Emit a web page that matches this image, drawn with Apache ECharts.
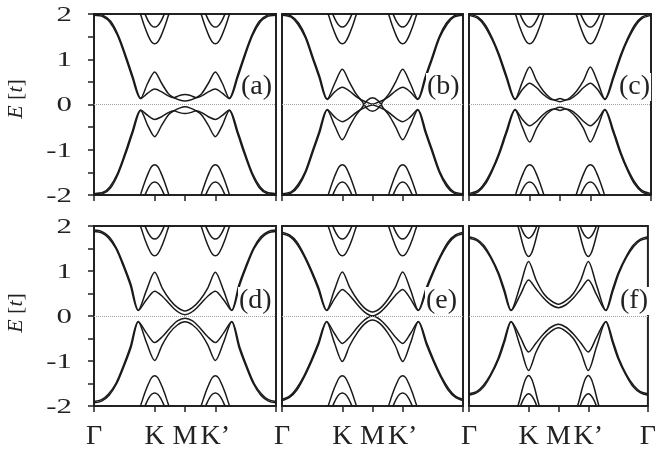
<!DOCTYPE html>
<html>
<head>
<meta charset="utf-8">
<script src="https://cdn.jsdelivr.net/npm/echarts@6/dist/echarts.min.js"></script>
<style>
  html, body { margin: 0; padding: 0; background: #fff; }
  #chart { width: 659px; height: 458px; }
</style>
</head>
<body>
<div id="chart"></div>
<script>
// Path coordinate along the Brillouin-zone cut: Γ=0, K=2, M=3, K'=4, Γ=6
const kPathTicks = [0, 2, 3, 4, 6];
const kPathLabels = ['Γ', 'K', 'M', 'K’', 'Γ'];
const energyTicks = [-2, -1, 0, 1, 2];
const panelTags = ['(a)', '(b)', '(c)', '(d)', '(e)', '(f)'];

// ---- panel (a) ----
const aUp1 = [[0,2.0],[0.3,1.97],[0.55,1.84],[0.8,1.53],[1.05,1.08],[1.28,0.62],[1.54,0.14],[1.77,0.47],[2.0,0.72],[2.23,0.47],[2.45,0.24],[2.63,0.15],[2.82,0.1],[3.0,0.08],[3.18,0.1],[3.37,0.15],[3.55,0.24],[3.77,0.47],[4.0,0.72],[4.23,0.47],[4.46,0.14],[4.72,0.62],[4.95,1.08],[5.2,1.53],[5.45,1.84],[5.7,1.97],[6,2.0]];
const aUp2 = [[0,1.97],[0.3,1.94],[0.52,1.82],[0.77,1.53],[1.02,1.08],[1.25,0.62],[1.54,0.13],[1.77,0.25],[2.0,0.34],[2.23,0.28],[2.45,0.19],[2.63,0.15],[2.82,0.2],[3.0,0.22],[3.18,0.2],[3.37,0.15],[3.55,0.19],[3.77,0.28],[4.0,0.34],[4.23,0.25],[4.46,0.13],[4.75,0.62],[4.98,1.08],[5.23,1.53],[5.48,1.82],[5.7,1.94],[6,1.97]];
const aDn1 = [[0,-2.0],[0.3,-1.97],[0.55,-1.84],[0.8,-1.53],[1.05,-1.08],[1.28,-0.62],[1.54,-0.13],[1.77,-0.46],[2.0,-0.71],[2.23,-0.46],[2.45,-0.23],[2.63,-0.14],[2.82,-0.08],[3.0,-0.05],[3.18,-0.08],[3.37,-0.14],[3.55,-0.23],[3.77,-0.46],[4.0,-0.71],[4.23,-0.46],[4.46,-0.13],[4.72,-0.62],[4.95,-1.08],[5.2,-1.53],[5.45,-1.84],[5.7,-1.97],[6,-2.0]];
const aDn2 = [[0,-1.97],[0.3,-1.94],[0.52,-1.82],[0.77,-1.53],[1.02,-1.08],[1.25,-0.62],[1.54,-0.12],[1.77,-0.24],[2.0,-0.33],[2.23,-0.27],[2.45,-0.18],[2.63,-0.14],[2.82,-0.18],[3.0,-0.2],[3.18,-0.18],[3.37,-0.14],[3.55,-0.18],[3.77,-0.27],[4.0,-0.33],[4.23,-0.24],[4.46,-0.12],[4.75,-0.62],[4.98,-1.08],[5.23,-1.53],[5.48,-1.82],[5.7,-1.94],[6,-1.97]];

// ---- panel (b) ----
const bUp1 = [[0,2.0],[0.3,1.96],[0.55,1.8],[0.8,1.48],[1.05,1.0],[1.25,0.62],[1.5,0.12],[1.75,0.47],[2.0,0.78],[2.23,0.5],[2.45,0.24],[2.64,0.08],[2.82,-0.09],[3.0,-0.15],[3.18,-0.09],[3.36,0.08],[3.55,0.24],[3.77,0.5],[4.0,0.78],[4.25,0.47],[4.5,0.12],[4.75,0.62],[4.95,1.0],[5.2,1.48],[5.45,1.8],[5.7,1.96],[6,2.0]];
const bUp2 = [[0,1.97],[0.3,1.93],[0.52,1.78],[0.77,1.48],[1.02,1.0],[1.22,0.62],[1.5,0.11],[1.75,0.28],[2.0,0.38],[2.23,0.3],[2.45,0.18],[2.64,0.1],[2.82,0.05],[3.0,0.01],[3.18,0.05],[3.36,0.1],[3.55,0.18],[3.77,0.3],[4.0,0.38],[4.25,0.28],[4.5,0.11],[4.78,0.62],[4.98,1.0],[5.23,1.48],[5.48,1.78],[5.7,1.93],[6,1.97]];
const bDn1 = [[0,-2.0],[0.3,-1.96],[0.55,-1.8],[0.8,-1.48],[1.05,-1.0],[1.25,-0.62],[1.5,-0.12],[1.75,-0.47],[2.0,-0.78],[2.23,-0.5],[2.45,-0.24],[2.64,-0.08],[2.82,0.09],[3.0,0.15],[3.18,0.09],[3.36,-0.08],[3.55,-0.24],[3.77,-0.5],[4.0,-0.78],[4.25,-0.47],[4.5,-0.12],[4.75,-0.62],[4.95,-1.0],[5.2,-1.48],[5.45,-1.8],[5.7,-1.96],[6,-2.0]];
const bDn2 = [[0,-1.97],[0.3,-1.93],[0.52,-1.78],[0.77,-1.48],[1.02,-1.0],[1.22,-0.62],[1.5,-0.11],[1.75,-0.28],[2.0,-0.38],[2.23,-0.3],[2.45,-0.18],[2.64,-0.1],[2.82,-0.05],[3.0,-0.01],[3.18,-0.05],[3.36,-0.1],[3.55,-0.18],[3.77,-0.3],[4.0,-0.38],[4.25,-0.28],[4.5,-0.11],[4.78,-0.62],[4.98,-1.0],[5.23,-1.48],[5.48,-1.78],[5.7,-1.93],[6,-1.97]];

// ---- panel (c) ----
const cUp1 = [[0,2.0],[0.3,1.93],[0.55,1.75],[0.8,1.42],[1.0,1.1],[1.25,0.61],[1.52,0.12],[1.76,0.5],[2.0,0.83],[2.23,0.52],[2.45,0.3],[2.67,0.15],[2.84,0.09],[3.0,0.06],[3.16,0.09],[3.33,0.15],[3.55,0.3],[3.77,0.52],[4.0,0.83],[4.24,0.5],[4.48,0.12],[4.75,0.61],[5.0,1.1],[5.2,1.42],[5.45,1.75],[5.7,1.93],[6,2.0]];
const cUp2 = [[0,1.97],[0.3,1.9],[0.52,1.73],[0.77,1.42],[0.97,1.1],[1.22,0.61],[1.52,0.11],[1.76,0.33],[2.0,0.47],[2.23,0.37],[2.45,0.22],[2.67,0.12],[2.84,0.1],[3.0,0.13],[3.16,0.1],[3.33,0.12],[3.55,0.22],[3.77,0.37],[4.0,0.47],[4.24,0.33],[4.48,0.11],[4.78,0.61],[5.03,1.1],[5.23,1.42],[5.48,1.73],[5.7,1.9],[6,1.97]];
const cDn1 = [[0,-2.0],[0.3,-1.93],[0.55,-1.75],[0.8,-1.42],[1.0,-1.1],[1.25,-0.61],[1.52,-0.12],[1.76,-0.5],[2.0,-0.83],[2.23,-0.52],[2.45,-0.3],[2.67,-0.15],[2.84,-0.09],[3.0,-0.06],[3.16,-0.09],[3.33,-0.15],[3.55,-0.3],[3.77,-0.52],[4.0,-0.83],[4.24,-0.5],[4.48,-0.12],[4.75,-0.61],[5.0,-1.1],[5.2,-1.42],[5.45,-1.75],[5.7,-1.93],[6,-2.0]];
const cDn2 = [[0,-1.97],[0.3,-1.9],[0.52,-1.73],[0.77,-1.42],[0.97,-1.1],[1.22,-0.61],[1.52,-0.11],[1.76,-0.33],[2.0,-0.47],[2.23,-0.37],[2.45,-0.22],[2.67,-0.12],[2.84,-0.1],[3.0,-0.13],[3.16,-0.1],[3.33,-0.12],[3.55,-0.22],[3.77,-0.37],[4.0,-0.47],[4.24,-0.33],[4.48,-0.11],[4.78,-0.61],[5.03,-1.1],[5.23,-1.42],[5.48,-1.73],[5.7,-1.9],[6,-1.97]];

// ---- panel (d) ----
const dUp1 = [[0,1.91],[0.25,1.88],[0.5,1.76],[0.75,1.5],[1.0,1.1],[1.22,0.7],[1.46,0.13],[1.73,0.57],[2.0,0.97],[2.25,0.62],[2.5,0.36],[2.75,0.19],[3.0,0.11],[3.25,0.19],[3.5,0.36],[3.75,0.62],[4.0,0.97],[4.27,0.57],[4.54,0.13],[4.78,0.7],[5.0,1.1],[5.25,1.5],[5.5,1.76],[5.75,1.88],[6,1.91]];
const dUp2 = [[0,1.88],[0.25,1.85],[0.47,1.74],[0.72,1.5],[0.97,1.1],[1.19,0.7],[1.46,0.12],[1.73,0.36],[2.0,0.55],[2.25,0.44],[2.5,0.26],[2.75,0.1],[3.0,0.03],[3.25,0.1],[3.5,0.26],[3.75,0.44],[4.0,0.55],[4.27,0.36],[4.54,0.12],[4.81,0.7],[5.03,1.1],[5.28,1.5],[5.53,1.74],[5.75,1.85],[6,1.88]];
const dDn1 = [[0,-1.93],[0.25,-1.89],[0.5,-1.76],[0.75,-1.5],[1.0,-1.1],[1.22,-0.7],[1.46,-0.13],[1.73,-0.59],[2.0,-0.99],[2.25,-0.64],[2.5,-0.37],[2.75,-0.2],[3.0,-0.13],[3.25,-0.2],[3.5,-0.37],[3.75,-0.64],[4.0,-0.99],[4.27,-0.59],[4.54,-0.13],[4.78,-0.7],[5.0,-1.1],[5.25,-1.5],[5.5,-1.76],[5.75,-1.89],[6,-1.93]];
const dDn2 = [[0,-1.9],[0.25,-1.86],[0.47,-1.74],[0.72,-1.5],[0.97,-1.1],[1.19,-0.7],[1.46,-0.12],[1.73,-0.38],[2.0,-0.59],[2.25,-0.46],[2.5,-0.27],[2.75,-0.11],[3.0,-0.05],[3.25,-0.11],[3.5,-0.27],[3.75,-0.46],[4.0,-0.59],[4.27,-0.38],[4.54,-0.12],[4.81,-0.7],[5.03,-1.1],[5.28,-1.5],[5.53,-1.74],[5.75,-1.86],[6,-1.9]];

// ---- panel (e) ----
const eUp1 = [[0,1.86],[0.25,1.8],[0.5,1.64],[0.75,1.34],[1.0,0.98],[1.22,0.62],[1.48,0.13],[1.74,0.58],[2.0,0.98],[2.25,0.63],[2.5,0.36],[2.75,0.17],[3.0,0.09],[3.25,0.17],[3.5,0.36],[3.75,0.63],[4.0,0.98],[4.26,0.58],[4.52,0.13],[4.78,0.62],[5.0,0.98],[5.25,1.34],[5.5,1.64],[5.75,1.8],[6,1.86]];
const eUp2 = [[0,1.83],[0.25,1.77],[0.47,1.62],[0.72,1.34],[0.97,0.98],[1.19,0.62],[1.48,0.12],[1.74,0.38],[2.0,0.59],[2.25,0.45],[2.5,0.25],[2.75,0.08],[3.0,0.0],[3.25,0.08],[3.5,0.25],[3.75,0.45],[4.0,0.59],[4.26,0.38],[4.52,0.12],[4.81,0.62],[5.03,0.98],[5.28,1.34],[5.53,1.62],[5.75,1.77],[6,1.83]];
const eDn1 = [[0,-1.88],[0.25,-1.81],[0.5,-1.64],[0.75,-1.34],[1.0,-0.98],[1.22,-0.62],[1.48,-0.13],[1.74,-0.6],[2.0,-1.01],[2.25,-0.65],[2.5,-0.37],[2.75,-0.17],[3.0,-0.09],[3.25,-0.17],[3.5,-0.37],[3.75,-0.65],[4.0,-1.01],[4.26,-0.6],[4.52,-0.13],[4.78,-0.62],[5.0,-0.98],[5.25,-1.34],[5.5,-1.64],[5.75,-1.81],[6,-1.88]];
const eDn2 = [[0,-1.85],[0.25,-1.78],[0.47,-1.62],[0.72,-1.34],[0.97,-0.98],[1.19,-0.62],[1.48,-0.12],[1.74,-0.39],[2.0,-0.61],[2.25,-0.46],[2.5,-0.25],[2.75,-0.08],[3.0,0.0],[3.25,-0.08],[3.5,-0.25],[3.75,-0.46],[4.0,-0.61],[4.26,-0.39],[4.52,-0.12],[4.81,-0.62],[5.03,-0.98],[5.28,-1.34],[5.53,-1.62],[5.75,-1.78],[6,-1.85]];

// ---- panel (f) ----
const fUp1 = [[0,1.76],[0.25,1.71],[0.5,1.57],[0.75,1.3],[1.0,0.95],[1.2,0.56],[1.41,0.13],[1.72,0.68],[2.0,1.21],[2.25,0.8],[2.5,0.5],[2.75,0.34],[3.0,0.26],[3.25,0.34],[3.5,0.5],[3.75,0.8],[4.0,1.21],[4.28,0.68],[4.59,0.13],[4.8,0.56],[5.0,0.95],[5.25,1.3],[5.5,1.57],[5.75,1.71],[6,1.76]];
const fUp2 = [[0,1.73],[0.25,1.68],[0.47,1.55],[0.72,1.3],[0.97,0.95],[1.17,0.56],[1.41,0.12],[1.72,0.47],[2.0,0.8],[2.25,0.6],[2.5,0.4],[2.75,0.25],[3.0,0.185],[3.25,0.25],[3.5,0.4],[3.75,0.6],[4.0,0.8],[4.28,0.47],[4.59,0.12],[4.83,0.56],[5.03,0.95],[5.28,1.3],[5.53,1.55],[5.75,1.68],[6,1.73]];
const fDn1 = [[0,-1.76],[0.25,-1.71],[0.5,-1.57],[0.75,-1.3],[1.0,-0.95],[1.2,-0.56],[1.41,-0.13],[1.72,-0.68],[2.0,-1.21],[2.25,-0.8],[2.5,-0.5],[2.75,-0.34],[3.0,-0.26],[3.25,-0.34],[3.5,-0.5],[3.75,-0.8],[4.0,-1.21],[4.28,-0.68],[4.59,-0.13],[4.8,-0.56],[5.0,-0.95],[5.25,-1.3],[5.5,-1.57],[5.75,-1.71],[6,-1.76]];
const fDn2 = [[0,-1.73],[0.25,-1.68],[0.47,-1.55],[0.72,-1.3],[0.97,-0.95],[1.17,-0.56],[1.41,-0.12],[1.72,-0.47],[2.0,-0.8],[2.25,-0.6],[2.5,-0.4],[2.75,-0.25],[3.0,-0.185],[3.25,-0.25],[3.5,-0.4],[3.75,-0.6],[4.0,-0.8],[4.28,-0.47],[4.59,-0.12],[4.83,-0.56],[5.03,-0.95],[5.28,-1.3],[5.53,-1.55],[5.75,-1.68],[6,-1.73]];

// ---- high-energy pockets around K and K' (panels a-e) ----
const highV = [[1.45,2.15],[1.55,1.96],[1.68,1.7],[1.8,1.5],[1.9,1.38],[2.0,1.34],[2.1,1.38],[2.2,1.5],[2.32,1.7],[2.45,1.96],[2.55,2.15],[3,null],[3.45,2.15],[3.55,1.96],[3.68,1.7],[3.8,1.5],[3.9,1.38],[4.0,1.34],[4.1,1.38],[4.2,1.5],[4.32,1.7],[4.45,1.96],[4.55,2.15]];
const highU = [[1.6,2.12],[1.7,1.97],[1.8,1.83],[1.9,1.74],[2.0,1.71],[2.1,1.74],[2.2,1.83],[2.3,1.97],[2.4,2.12],[3,null],[3.6,2.12],[3.7,1.97],[3.8,1.83],[3.9,1.74],[4.0,1.71],[4.1,1.74],[4.2,1.83],[4.3,1.97],[4.4,2.12]];
const lowV = [[1.45,-2.15],[1.55,-1.96],[1.68,-1.7],[1.8,-1.5],[1.9,-1.37],[2.0,-1.33],[2.1,-1.37],[2.2,-1.5],[2.32,-1.7],[2.45,-1.96],[2.55,-2.15],[3,null],[3.45,-2.15],[3.55,-1.96],[3.68,-1.7],[3.8,-1.5],[3.9,-1.37],[4.0,-1.33],[4.1,-1.37],[4.2,-1.5],[4.32,-1.7],[4.45,-1.96],[4.55,-2.15]];
const lowU = [[1.6,-2.12],[1.7,-1.97],[1.8,-1.83],[1.9,-1.74],[2.0,-1.71],[2.1,-1.74],[2.2,-1.83],[2.3,-1.97],[2.4,-2.12],[3,null],[3.6,-2.12],[3.7,-1.97],[3.8,-1.83],[3.9,-1.74],[4.0,-1.71],[4.1,-1.74],[4.2,-1.83],[4.3,-1.97],[4.4,-2.12]];

// ---- high-energy pockets, panel (f) ----
const fHighV = [[1.6,2.1],[1.7,1.86],[1.8,1.6],[1.9,1.4],[2.0,1.32],[2.1,1.4],[2.2,1.6],[2.3,1.86],[2.4,2.1],[3,null],[3.6,2.1],[3.7,1.86],[3.8,1.6],[3.9,1.4],[4.0,1.32],[4.1,1.4],[4.2,1.6],[4.3,1.86],[4.4,2.1]];
const fHighU = [[1.7,2.05],[1.8,1.88],[1.9,1.77],[2.0,1.73],[2.1,1.77],[2.2,1.88],[2.3,2.05],[3,null],[3.7,2.05],[3.8,1.88],[3.9,1.77],[4.0,1.73],[4.1,1.77],[4.2,1.88],[4.3,2.05]];
const fLowV = [[1.6,-2.1],[1.7,-1.86],[1.8,-1.6],[1.9,-1.4],[2.0,-1.32],[2.1,-1.4],[2.2,-1.6],[2.3,-1.86],[2.4,-2.1],[3,null],[3.6,-2.1],[3.7,-1.86],[3.8,-1.6],[3.9,-1.4],[4.0,-1.32],[4.1,-1.4],[4.2,-1.6],[4.3,-1.86],[4.4,-2.1]];
const fLowU = [[1.7,-2.05],[1.8,-1.88],[1.9,-1.77],[2.0,-1.73],[2.1,-1.77],[2.2,-1.88],[2.3,-2.05],[3,null],[3.7,-2.05],[3.8,-1.88],[3.9,-1.77],[4.0,-1.73],[4.1,-1.77],[4.2,-1.88],[4.3,-2.05]];

const panelBands = [
  [aUp1, aUp2, aDn1, aDn2],
  [bUp1, bUp2, bDn1, bDn2],
  [cUp1, cUp2, cDn1, cDn2],
  [dUp1, dUp2, dDn1, dDn2],
  [eUp1, eUp2, eDn1, eDn2],
  [fUp1, fUp2, fDn1, fDn2]
];
const stdPockets = [highV, highU, lowV, lowU];
const fPockets = [fHighV, fHighU, fLowV, fLowU];
const panelPockets = [stdPockets, stdPockets, stdPockets, stdPockets, stdPockets, fPockets];

const SERIF = '"Liberation Serif", "Times New Roman", serif';
const INK = '#1a1a1a';

const gridBoxes = [
  { left: 94,  top: 14,  width: 182, height: 181 },
  { left: 282, top: 14,  width: 181, height: 181 },
  { left: 469, top: 14,  width: 182, height: 181 },
  { left: 94,  top: 226, width: 182, height: 180 },
  { left: 282, top: 226, width: 181, height: 180 },
  { left: 469, top: 226, width: 182, height: 180 }
];
// placement of the panel tags
const tagBoxes = [
  { left: 240, top: 73 }, { left: 426, top: 73 }, { left: 618, top: 73 },
  { left: 238, top: 287 }, { left: 425, top: 287 }, { left: 619, top: 287 }
];

const grid = gridBoxes.map(b => Object.assign({
  show: true, borderColor: '#222', borderWidth: 2, backgroundColor: 'transparent', containLabel: false
}, b));

const xAxis = gridBoxes.map((b, i) => {
  const bottomRow = i >= 3;
  const lastCol = i % 3 === 2;
  return {
    type: 'value', gridIndex: i, min: 0, max: 6, position: 'bottom',
    axisLine: { show: false, onZero: false },
    splitLine: { show: false },
    axisTick: {
      show: true, inside: false, length: 6, customValues: kPathTicks,
      lineStyle: { color: '#222', width: 1.5 }
    },
    axisLabel: {
      show: bottomRow,
      customValues: lastCol ? kPathTicks : kPathTicks.slice(0, 4),
      formatter: v => kPathLabels[kPathTicks.indexOf(v)] || '',
      fontFamily: SERIF, fontSize: 28, color: '#222', margin: 17
    }
  };
});

// energy tick labels are placed as separate wide text items below
const yAxis = gridBoxes.map((b, i) => {
  const leftCol = i % 3 === 0;
  return {
    type: 'value', gridIndex: i, min: -2, max: 2, interval: 0.5, position: 'left',
    axisLine: { show: false, onZero: false },
    splitLine: { show: false },
    axisTick: { show: leftCol, inside: false, length: 6, lineStyle: { color: '#222', width: 1.5 } },
    axisLabel: { show: false }
  };
});

const series = [];
panelBands.forEach((bands, i) => {
  const curves = bands.concat(panelPockets[i]);
  curves.forEach((data, j) => {
    const s = {
      type: 'line', xAxisIndex: i, yAxisIndex: i, data,
      symbol: 'none', showSymbol: false, smooth: 0.3, connectNulls: false,
      clip: true, silent: true, animation: false,
      lineStyle: { color: INK, width: 1.5 }
    };
    if (j === 0) {
      s.markLine = {
        silent: true, symbol: 'none', label: { show: false }, animation: false,
        lineStyle: { color: '#a0a0a0', type: 'dotted', width: 1 },
        data: [{ yAxis: 0 }]
      };
    }
    series.push(s);
  });
});

const title = panelTags.map((t, i) => ({
  text: t, left: tagBoxes[i].left, top: tagBoxes[i].top, padding: [0, 1],
  backgroundColor: '#fff', z: 20,
  textStyle: { fontFamily: SERIF, fontSize: 28, fontWeight: 'normal', color: '#222' }
}));

// rotated energy-axis captions, one per row
const captionCenters = [99, 313];
const captions = captionCenters.map(cy => ({
  type: 'text', x: 16, y: cy, rotation: Math.PI / 2, z: 20,
  style: {
    text: '{i|E} [{i|t}]',
    fontFamily: SERIF, fontSize: 22, fill: '#222',
    align: 'center', verticalAlign: 'middle',
    rich: { i: { fontStyle: 'italic', fontFamily: SERIF, fontSize: 22, fill: '#222' } }
  }
}));

const chart = echarts.init(document.getElementById('chart'), null, { renderer: 'canvas' });
chart.setOption({
  backgroundColor: '#fff',
  animation: false,
  title, grid, xAxis, yAxis, series, graphic: captions
});

// energy tick labels of the left column, positioned through each grid's own scale
const energyLabels = [];
[0, 3].forEach(gi => {
  energyTicks.forEach(v => {
    const p = chart.convertToPixel({ gridIndex: gi }, [0, v]);
    energyLabels.push({
      type: 'text', x: p[0] - 22, y: p[1] + 1, scaleX: 1.4, z: 20,
      style: {
        text: String(v), fontFamily: SERIF, fontSize: 22, fill: '#222',
        align: 'right', verticalAlign: 'middle'
      }
    });
  });
});
chart.setOption({ graphic: captions.concat(energyLabels) });
</script>
</body>
</html>
